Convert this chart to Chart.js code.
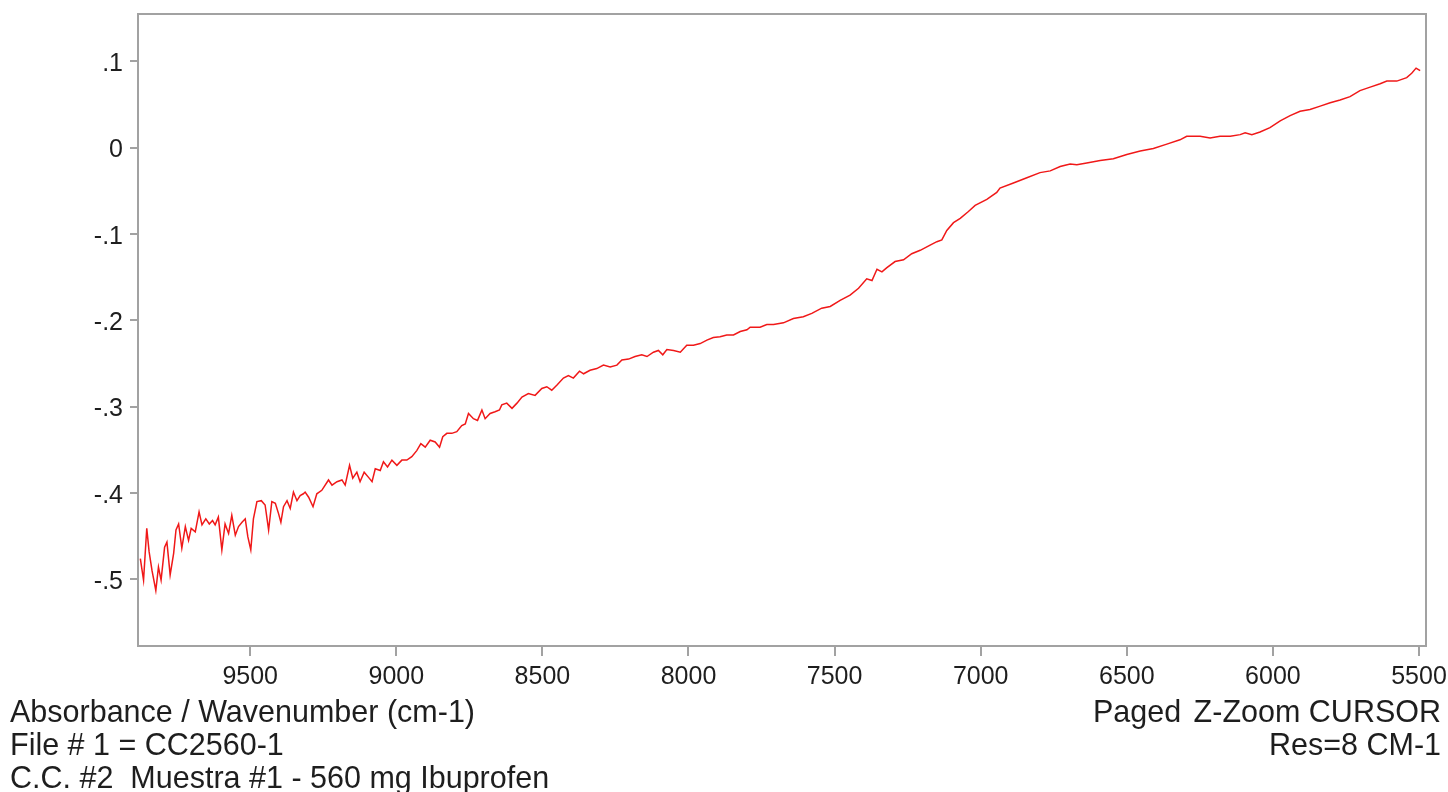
<!DOCTYPE html>
<html>
<head>
<meta charset="utf-8">
<script src="https://cdn.jsdelivr.net/npm/chart.js@4.4.1/dist/chart.umd.min.js"></script>
<style>
html,body{margin:0;padding:0;background:#fff;}
#wrap{width:1448px;height:792px;position:relative;}
</style>
</head>
<body>
<div id="wrap"><canvas id="spectrum" width="1448" height="792"></canvas></div>
<script>

// wavenumber (cm-1)
const wavenumbers = [
9876,9865,9854,9846,9836,9823,9814,9805,9793,9785,9774,9762,9754,9745,9734,9722,9711,9702,9688,9675,
9665,9652,9640,9629,9620,9609,9597,9586,9574,9563,9551,9540,9528,9517,9508,9498,9489,9477,9462,9449,
9437,9426,9414,9403,9395,9386,9374,9363,9352,9340,9329,9318,9312,9300,9285,9272,9255,9232,9220,9203,
9186,9175,9160,9149,9135,9124,9110,9095,9083,9072,9055,9044,9030,9015,8998,8981,8964,8947,8930,8916,
8901,8884,8867,8852,8841,8827,8810,8793,8776,8764,8753,8736,8722,8707,8696,8679,8662,8647,8639,8622,
8604,8587,8570,8548,8525,8502,8485,8468,8450,8428,8411,8394,8373,8359,8337,8314,8291,8268,8245,8228,
8205,8183,8160,8142,8120,8103,8088,8074,8051,8028,8006,7983,7960,7937,7915,7892,7869,7846,7823,7800,
7789,7755,7732,7709,7675,7641,7607,7578,7544,7515,7481,7447,7418,7390,7372,7355,7338,7321,7293,7264,
7236,7207,7173,7150,7133,7116,7093,7070,7042,7019,6979,6945,6934,6888,6842,6797,6762,6728,6694,6671,
6637,6591,6546,6500,6454,6409,6363,6318,6295,6249,6215,6181,6146,6112,6095,6072,6044,6010,5975,5941,
5907,5873,5838,5804,5770,5736,5702,5667,5633,5610,5576,5542,5525,5510,5496
];

// absorbance at each wavenumber
const absorbance = [
-0.476,-0.501,-0.441,-0.468,-0.490,-0.513,-0.486,-0.501,-0.463,-0.457,-0.495,-0.470,-0.443,-0.436,-0.464,-0.439,-0.455,-0.441,-0.445,-0.422,
-0.437,-0.430,-0.436,-0.432,-0.437,-0.428,-0.466,-0.436,-0.447,-0.426,-0.449,-0.439,-0.434,-0.430,-0.451,-0.466,-0.430,-0.410,-0.409,-0.414,
-0.443,-0.410,-0.412,-0.424,-0.434,-0.416,-0.409,-0.418,-0.399,-0.409,-0.403,-0.401,-0.399,-0.405,-0.416,-0.401,-0.397,-0.385,-0.391,-0.387,
-0.385,-0.391,-0.368,-0.383,-0.376,-0.387,-0.376,-0.382,-0.387,-0.372,-0.374,-0.364,-0.370,-0.362,-0.368,-0.362,-0.362,-0.358,-0.351,-0.343,
-0.347,-0.339,-0.341,-0.347,-0.335,-0.331,-0.331,-0.329,-0.322,-0.320,-0.308,-0.314,-0.316,-0.304,-0.314,-0.308,-0.306,-0.304,-0.298,-0.296,
-0.302,-0.296,-0.289,-0.285,-0.287,-0.279,-0.277,-0.281,-0.275,-0.267,-0.264,-0.267,-0.259,-0.262,-0.258,-0.256,-0.252,-0.254,-0.252,-0.246,
-0.245,-0.242,-0.240,-0.242,-0.237,-0.235,-0.240,-0.234,-0.235,-0.237,-0.229,-0.229,-0.227,-0.223,-0.220,-0.219,-0.217,-0.217,-0.213,-0.211,
-0.208,-0.208,-0.205,-0.205,-0.203,-0.198,-0.196,-0.192,-0.186,-0.184,-0.177,-0.171,-0.163,-0.152,-0.154,-0.141,-0.144,-0.139,-0.132,-0.130,
-0.123,-0.119,-0.113,-0.109,-0.107,-0.096,-0.087,-0.082,-0.074,-0.067,-0.060,-0.052,-0.047,-0.041,-0.035,-0.029,-0.027,-0.022,-0.019,-0.020,
-0.018,-0.015,-0.013,-0.008,-0.004,-0.001,0.004,0.009,0.013,0.013,0.011,0.013,0.013,0.015,0.017,0.015,0.018,0.023,0.031,0.037,
0.042,0.044,0.048,0.052,0.055,0.059,0.066,0.070,0.074,0.077,0.077,0.081,0.086,0.092,0.089
];

const xTickValues = [9500,9000,8500,8000,7500,7000,6500,6000,5500];
const yTickValues = [0.1,0,-0.1,-0.2,-0.3,-0.4,-0.5];
const yTickLabels = [".1","0","-.1","-.2","-.3","-.4","-.5"];

const footerLeft = [
"Absorbance / Wavenumber (cm-1)",
"File # 1 = CC2560-1",
"C.C. #2  Muestra #1 - 560 mg Ibuprofen"
];
const footerRight = ["Z-Zoom CURSOR","Res=8 CM-1"];

const points = wavenumbers.map((w,i) => ({x:w, y:absorbance[i]}));

const FONT = "'Liberation Sans', Arial, sans-serif";
const FRAME = "#a2a2a2";
const TEXT = "#1e1e1e";

// grey frame around the plot and the footer text under it
const framePlugin = {
id:"frame",
afterDraw(chart){
const ctx = chart.ctx;
const a = chart.chartArea;
ctx.save();
ctx.strokeStyle = FRAME;
ctx.lineWidth = 2;
ctx.strokeRect(a.left, a.top, a.right - a.left, a.bottom - a.top);

ctx.fillStyle = TEXT;
ctx.font = "30.5px " + FONT;
ctx.textBaseline = "alphabetic";
ctx.textAlign = "left";
footerLeft.forEach((t,i) => ctx.fillText(t, 10, 722 + i*33));
ctx.fillText("Paged", 1093, 722);
ctx.textAlign = "right";
footerRight.forEach((t,i) => ctx.fillText(t, 1441, 722 + i*33));
ctx.restore();
}
};

// drop the extra room chart.js keeps for edge labels
function noEdgePadding(scale){
scale.paddingTop = 0;
scale.paddingBottom = 0;
scale.paddingLeft = 0;
scale.paddingRight = 0;
}

const ctx = document.getElementById("spectrum").getContext("2d");

new Chart(ctx,{
type:"line",
data:{
datasets:[{
data:points,
borderColor:"#f01818",
borderWidth:1.5,
pointRadius:0,
tension:0,
fill:false
}]
},
options:{
responsive:false,
animation:false,
devicePixelRatio:1,
layout:{padding:{top:14,right:22,left:0,bottom:0}},
plugins:{legend:{display:false},tooltip:{enabled:false}},
scales:{
x:{
type:"linear",
reverse:true,
min:5476,
max:9884,
afterBuildTicks(scale){ scale.ticks = xTickValues.map(v => ({value:v})); },
afterFit(scale){ scale.height = 146; noEdgePadding(scale); },
grid:{drawOnChartArea:false,drawTicks:true,tickLength:10,color:FRAME,lineWidth:2},
border:{display:false},
ticks:{
autoSkip:false,
maxRotation:0,
padding:6,
color:TEXT,
font:{family:FONT,size:25},
callback:(v) => String(v)
}
},
y:{
type:"linear",
min:-0.5773,
max:0.1547,
afterBuildTicks(scale){ scale.ticks = yTickValues.map(v => ({value:v})); },
afterFit(scale){ scale.width = 138; noEdgePadding(scale); },
grid:{drawOnChartArea:false,drawTicks:true,tickLength:8,color:FRAME,lineWidth:2},
border:{display:false},
ticks:{
autoSkip:false,
padding:7,
labelOffset:3,
color:TEXT,
font:{family:FONT,size:25},
callback:(v,i) => yTickLabels[i]
}
}
}
},
plugins:[framePlugin]
});

</script>
</body>
</html>
